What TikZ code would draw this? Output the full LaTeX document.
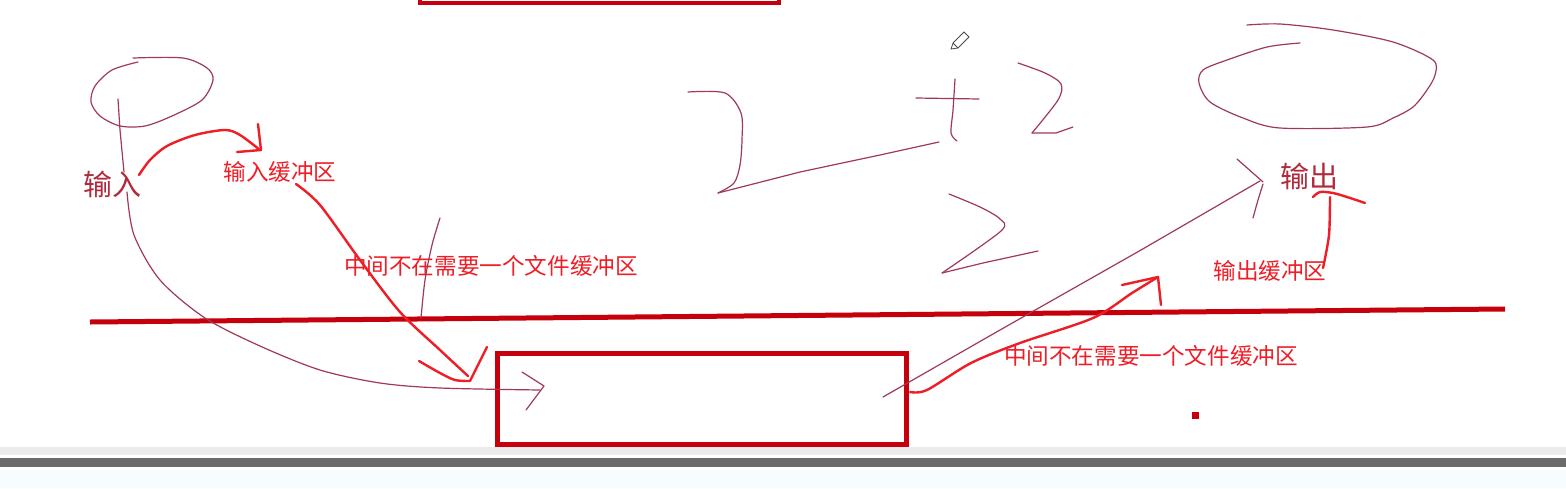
\documentclass[tikz,border=0pt]{standalone}
\usepackage{fontspec}
\newfontfamily\cjk{Noto Sans CJK SC}
\begin{document}
\begin{tikzpicture}[x=1pt,y=-1pt,
  sketch/.style={draw=sketchc,line width=1.2pt,line cap=round,line join=round},
  pen/.style={draw=penc,line width=2.4pt,line cap=round,line join=round},
  heavy/.style={draw=heavyc,line width=5pt},
  lbl/.style={text=penc,font=\cjk\fontsize{22.6}{22.6}\selectfont,inner sep=0pt},
  biglbl/.style={text=darklbl,font=\cjk\fontsize{29}{29}\selectfont,inner sep=0pt}]
\definecolor{sketchc}{HTML}{9E3A58}
\definecolor{penc}{HTML}{EE1D26}
\definecolor{heavyc}{HTML}{C5000C}
\definecolor{darklbl}{HTML}{B02A3C}
\useasboundingbox (0,0) rectangle (1566,488);
\fill[white] (0,0) rectangle (1566,488);
% bottom window bars
\fill[black!8] (0,447) rectangle (1566,455);
\fill[black!58] (0,458) rectangle (1566,467);
\fill[black!8!cyan!3] (0,470) rectangle (1566,488);
% top partial box
\draw[heavy,line width=4pt] (420,-5) -- (420,3) -- (779,3) -- (779,-5);
% horizontal thick line
\draw[heavy] (90,322) -- (1505,309);
% lower box
\draw[heavy] (497,353) rectangle (906,444);
% left ellipse
\draw[sketch] plot[smooth] coordinates {(133,58) (183,58) (207,68) (213,80) (202,100) (172,116) (145,126) (120,126) (100,116) (91,102) (95,86) (112,70) (138,62)};
\draw[sketch] (118,99) -- (120,130) -- (124,172);
% labels
\node[biglbl] (in) at (112,184) {输入};
\node[lbl] (inbuf) at (280,172) {输入缓冲区};
\node[lbl] (mid1) at (491,266) {中间不在需要一个文件缓冲区};
\node[biglbl] (out) at (1309,176) {输出};
\node[lbl] (outbuf) at (1270,271) {输出缓冲区};
\node[lbl] (mid2) at (1151,356) {中间不在需要一个文件缓冲区};
% curved arrow from input to box
\draw[sketch] plot[smooth] coordinates {(127,192) (134,235) (160,280) (205,318) (260,346) (320,370) (380,383) (440,388) (540,390)};
\draw[sketch] (522,372) -- (544,386) -- (526,410);
% red arrow input -> input buffer
\draw[pen] plot[smooth] coordinates {(139,175) (150,160) (167,146) (195,135) (225,130) (240,135) (260,150)};
\draw[pen] (258,124) -- (261,150) -- (237,152);
% red line buffer -> box
\draw[pen] plot[smooth] coordinates {(296,184) (320,205) (360,260) (400,312) (440,350) (468,376)};
\draw[pen] plot[smooth] coordinates {(419,361) (440,373) (455,380) (470,381)};
\draw[pen] (470,381) -- (478,365) -- (487,347);
% thin vertical stroke
\draw[sketch] plot[smooth] coordinates {(440,218) (432,245) (425,280) (421,318)};
% "7" and line
\draw[sketch] plot[smooth] coordinates {(688,92) (725,93) (741,113) (742,140) (740,165) (734,183) (718,193)};
\draw[sketch] (718,193) -- (800,172) -- (880,155) -- (939,142);
% "t"
\draw[sketch] (916,98) -- (979,99);
\draw[sketch] plot[smooth] coordinates {(955,79) (953,110) (951,133) (957,141)};
% upper "2"
\draw[sketch] plot[smooth] coordinates {(1018,63) (1045,73) (1061,84) (1058,100) (1032,133)};
\draw[sketch] (1032,133) -- (1056,133) -- (1073,127);
% lower "2"
\draw[sketch] plot[smooth] coordinates {(949,194) (980,207) (1000,219) (1001,231) (942,273)};
\draw[sketch] (942,273) -- (983,263) -- (1038,251);
% pencil cursor
\draw[black!70,line width=0.8pt,fill=white] (951,49) -- (953,43) -- (964,32) -- (969,37) -- (958,48) -- cycle;
\draw[black!70,line width=0.8pt] (953,43) -- (958,48);
% right ellipse
\draw[sketch] plot[smooth] coordinates {(1247,25) (1280,24) (1333,30) (1393,42) (1433,60) (1435,75) (1427,90) (1413,107) (1393,118) (1367,127) (1280,128) (1243,118) (1210,102) (1199,83) (1203,70) (1227,60) (1267,47) (1300,43)};
% long thin arrow to output
\draw[sketch] (883,397) -- (1000,330) -- (1141,250) -- (1260,181);
\draw[sketch] (1237,159) -- (1263,182);
\draw[sketch] plot[smooth] coordinates {(1253,218) (1258,200) (1263,184)};
% red squiggle from output buffer to output
\draw[pen] plot[smooth] coordinates {(1323,268) (1329,235) (1330,197)};
\draw[pen] plot[smooth] coordinates {(1313,197) (1320,192) (1333,193) (1347,197) (1365,203)};
% red arrow from box upward
\draw[pen] plot[smooth] coordinates {(910,392) (927,390) (971,363) (1020,343) (1093,318) (1132,293) (1158,277)};
\draw[pen] (1122,285) -- (1158,277) -- (1161,305);
% small red square
\fill[heavyc] (1192,412) rectangle (1199,419);
\end{tikzpicture}
\end{document}
